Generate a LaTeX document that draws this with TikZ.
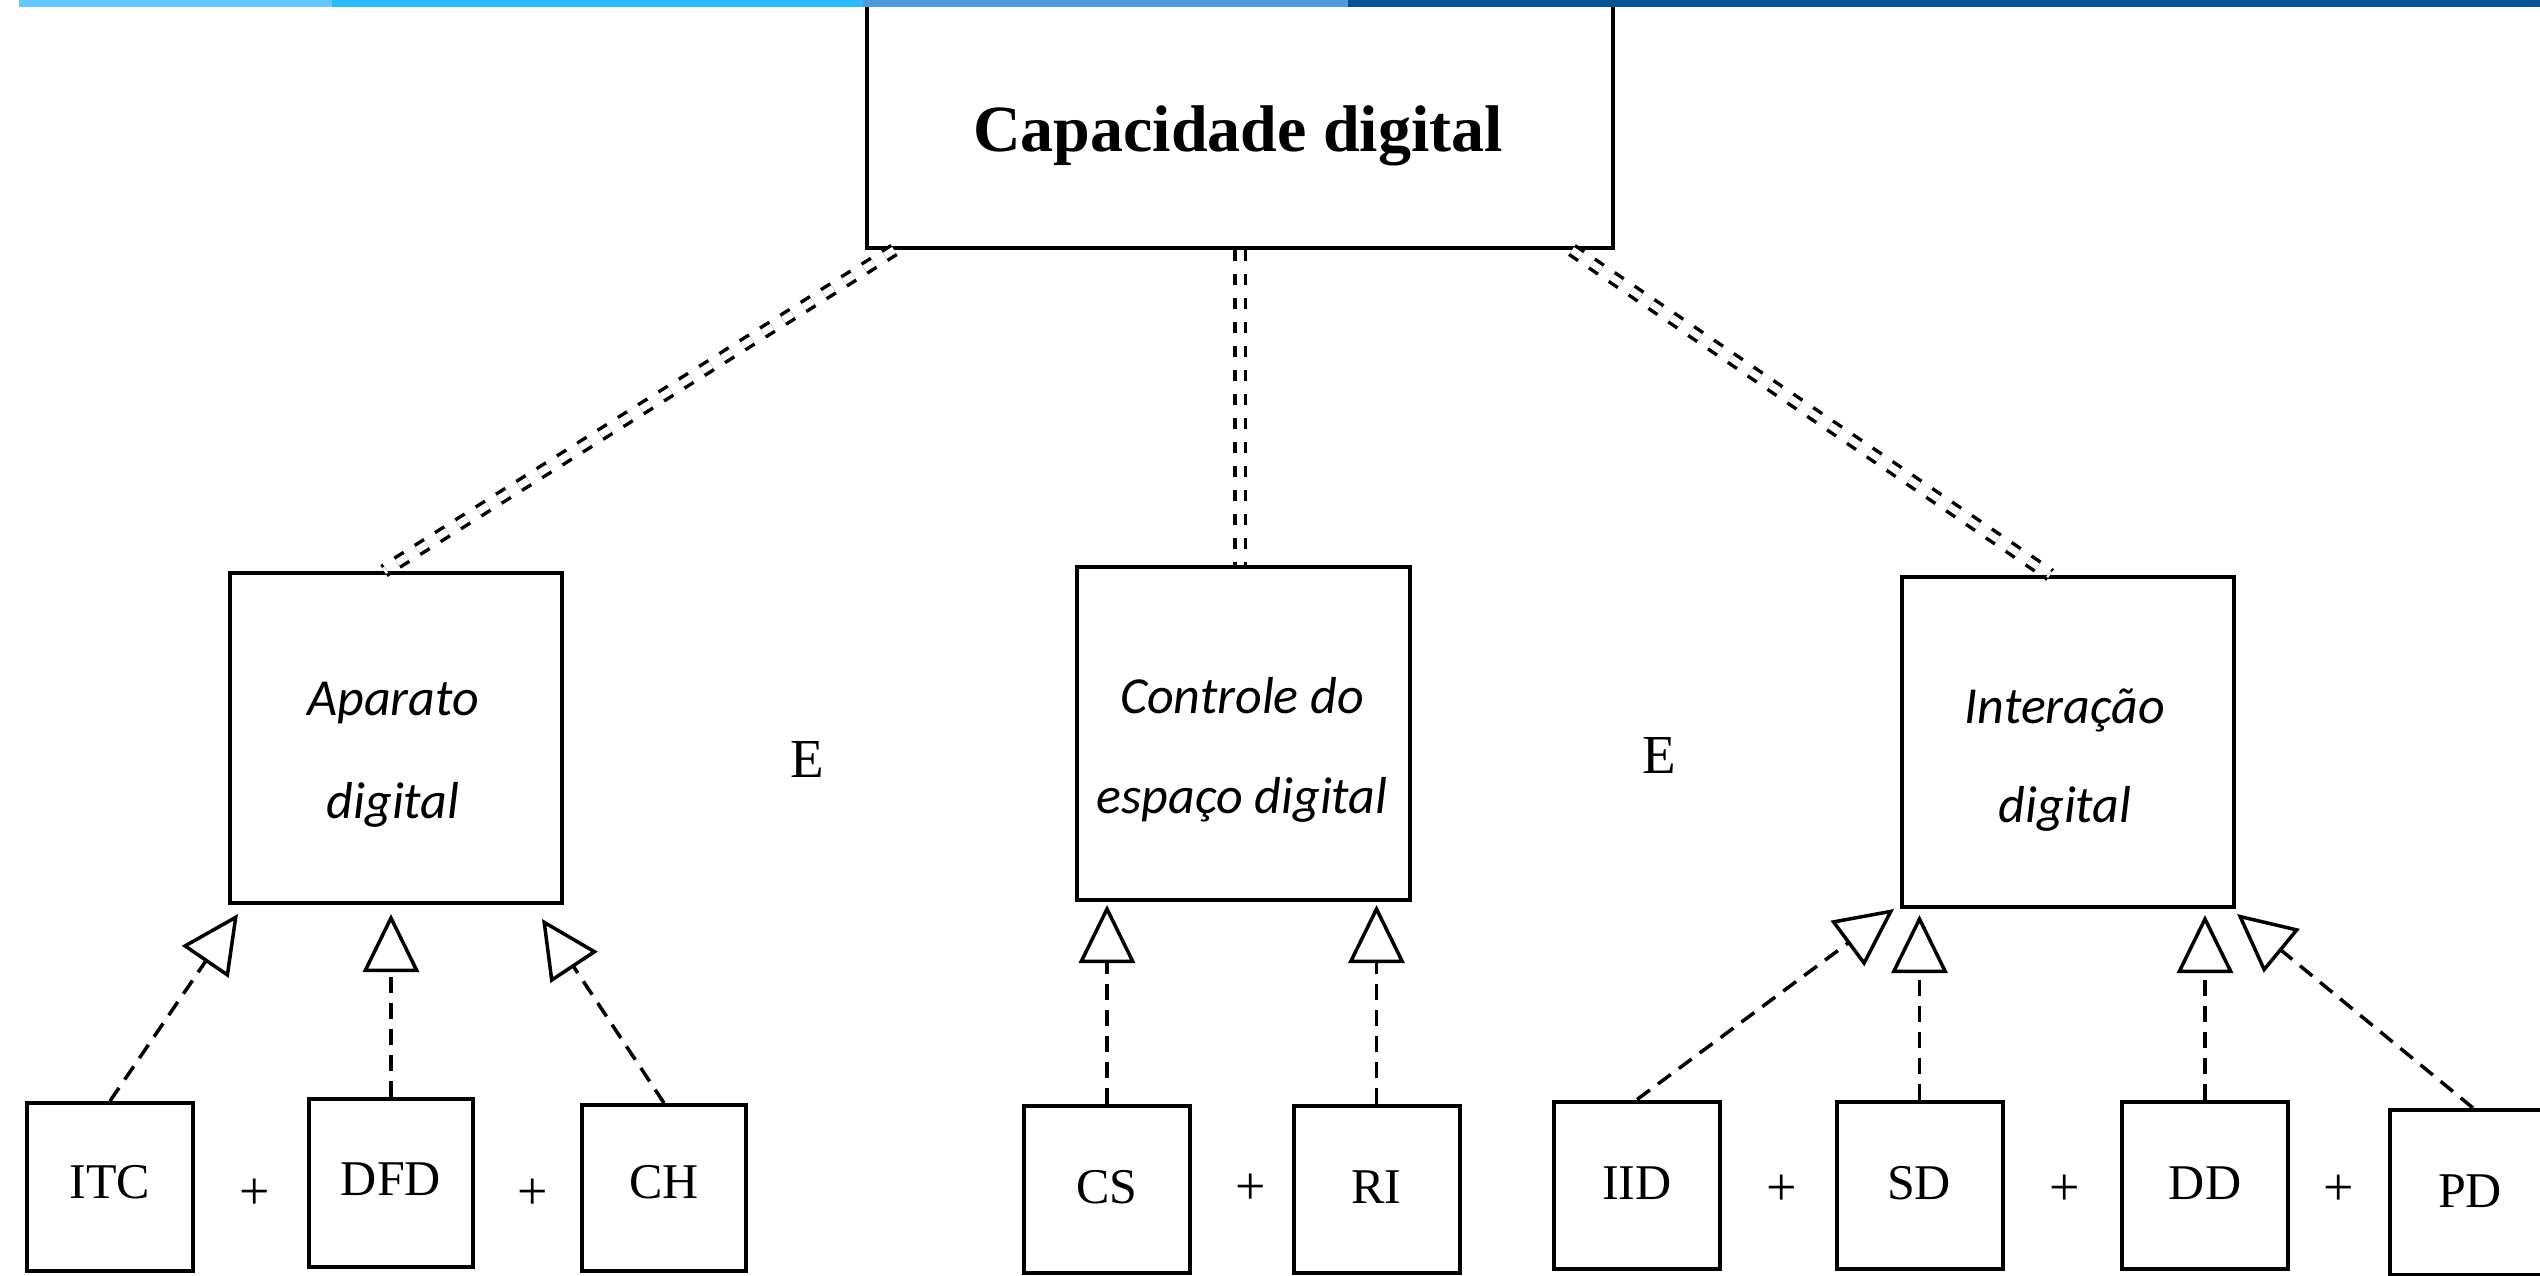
\documentclass[tikz,border=0pt]{standalone}
\usepackage{fontspec}
\setmainfont{Liberation Serif}
\newfontfamily\calfont{Carlito}
\usetikzlibrary{arrows.meta,calc}

\definecolor{barA}{HTML}{63C7FD}
\definecolor{barB}{HTML}{2CBAFD}
\definecolor{barC}{HTML}{4D9BDB}
\definecolor{barD}{HTML}{045394}

\tikzset{
  box/.style={draw=black, line width=4pt, fill=white, inner sep=0pt},
  mainbox/.style={box, minimum width=746pt, minimum height=254pt},
  aspectbox/.style={box, minimum width=332pt, minimum height=330pt},
  leafbox/.style={box, minimum width=166pt, minimum height=167pt},
  leaftext/.style={anchor=base, inner sep=0pt, font=\fontsize{50}{60}\selectfont},
  asptext/.style={anchor=base, inner sep=0pt, font=\calfont\itshape\fontsize{52}{60}\selectfont},
  plussign/.style={inner sep=0pt, font=\fontsize{54}{60}\selectfont},
  andtext/.style={anchor=base, inner sep=0pt, font=\fontsize{55}{60}\selectfont},
  realizes/.style={draw=black, line width=3.5pt, dash pattern=on 16pt off 10pt,
    -{Triangle[open, length=58pt, width=56pt]}},
  composes/.style={draw=black, line width=3.5pt, double=white, double distance=7pt,
    dash pattern=on 11pt off 13pt},
}

\begin{document}
\begin{tikzpicture}[x=1pt, y=-1pt]
  \useasboundingbox (0,0) rectangle (2540,1276);
  \clip (0,0) rectangle (2540,1276);
  \fill[white] (0,0) rectangle (2540,1276);

  % root
  \node[mainbox] (top) at (1240,121) {};
  \node[anchor=base, inner sep=0pt, font=\bfseries\fontsize{66}{70}\selectfont] (toptext) at (1238,152) {Capacidade digital};

  % the three aspects
  \node[aspectbox] (apar) at (396,738) {};
  \node[aspectbox, minimum width=333pt, minimum height=333pt] (ctrl) at (1243.5,733.5) {};
  \node[aspectbox] (inter) at (2068,742) {};

  \node[asptext] (apar1) at (393,715) {Aparato};
  \node[asptext] (apar2) at (393,818) {digital};
  \node[asptext] (ctrl1) at (1242,713) {Controle do};
  \node[asptext] (ctrl2) at (1242,813) {espaço digital};
  \node[asptext] (inter1) at (2065,723) {Interação};
  \node[asptext] (inter2) at (2065,822) {digital};

  \node[andtext] (and1) at (807,777) {E};
  \node[andtext] (and2) at (1659,773) {E};

  % components
  \node[leafbox, minimum height=168pt] (itc) at (110,1187) {};
  \node[leafbox, minimum width=164pt, minimum height=168pt] (dfd) at (391,1183) {};
  \node[leafbox, minimum width=164pt, minimum height=166pt] (ch) at (664,1188) {};
  \node[leafbox] (cs) at (1107,1189.5) {};
  \node[leafbox] (ri) at (1376.5,1189.5) {};
  \node[leafbox] (iid) at (1637,1185) {};
  \node[leafbox] (sd) at (1919.5,1185) {};
  \node[leafbox] (dd) at (2205,1185) {};
  \node[leafbox, minimum height=165pt] (pd) at (2473,1192.5) {};

  \node[leaftext] (itct) at (110,1198) {ITC};
  \node[leaftext] (dfdt) at (391,1195) {DFD};
  \node[leaftext] (cht) at (664,1198) {CH};
  \node[leaftext] (cst) at (1107,1203) {CS};
  \node[leaftext] (rit) at (1376,1203) {RI};
  \node[leaftext] (iidt) at (1637,1199) {IID};
  \node[leaftext] (sdt) at (1919,1199) {SD};
  \node[leaftext] (ddt) at (2205,1199) {DD};
  \node[leaftext] (pdt) at (2470,1207) {PD};

  \node[plussign] (p1) at (255,1194) {+};
  \node[plussign] (p2) at (533,1194) {+};
  \node[plussign] (p3) at (1251,1189) {+};
  \node[plussign] (p4) at (1782,1190) {+};
  \node[plussign] (p5) at (2065,1190) {+};
  \node[plussign] (p6) at (2339,1190) {+};

  % root to aspects
  \draw[composes] ([xshift=29pt]top.south west) -- ([xshift=-12pt]apar.north);
  \draw[composes] (top.south) -- (top.south |- ctrl.north);
  \draw[composes] ([xshift=-43pt]top.south east) -- ([xshift=-18pt]inter.north);

  % components to aspects
  \draw[realizes] (itc.north) -- ($(apar.south west)+(10,9)$);
  \draw[realizes] (dfd.north) -- ($(dfd.north |- apar.south)+(0,9)$);
  \draw[realizes] (ch.north) -- ($(apar.south east)+(-22,14)$);

  \draw[realizes] (cs.north) -- ($(cs.north |- ctrl.south)+(0,3)$);
  \draw[realizes] (ri.north) -- ($(ri.north |- ctrl.south)+(0,3)$);

  \draw[realizes] (iid.north) -- ($(inter.south west)+(-6,0)$);
  \draw[realizes] (sd.north) -- ($(sd.north |- inter.south)+(0,6)$);
  \draw[realizes] (dd.north) -- ($(dd.north |- inter.south)+(0,6)$);
  \draw[realizes] (pd.north) -- ($(inter.south east)+(1,5)$);

  % coloured band along the top edge
  \fill[barA] (19,0) rectangle (332,6.7);
  \fill[barB] (332,0) rectangle (863,6.7);
  \fill[barC] (863,0) rectangle (1348,6.7);
  \fill[barD] (1348,0) rectangle (2540,6.7);
\end{tikzpicture}
\end{document}
